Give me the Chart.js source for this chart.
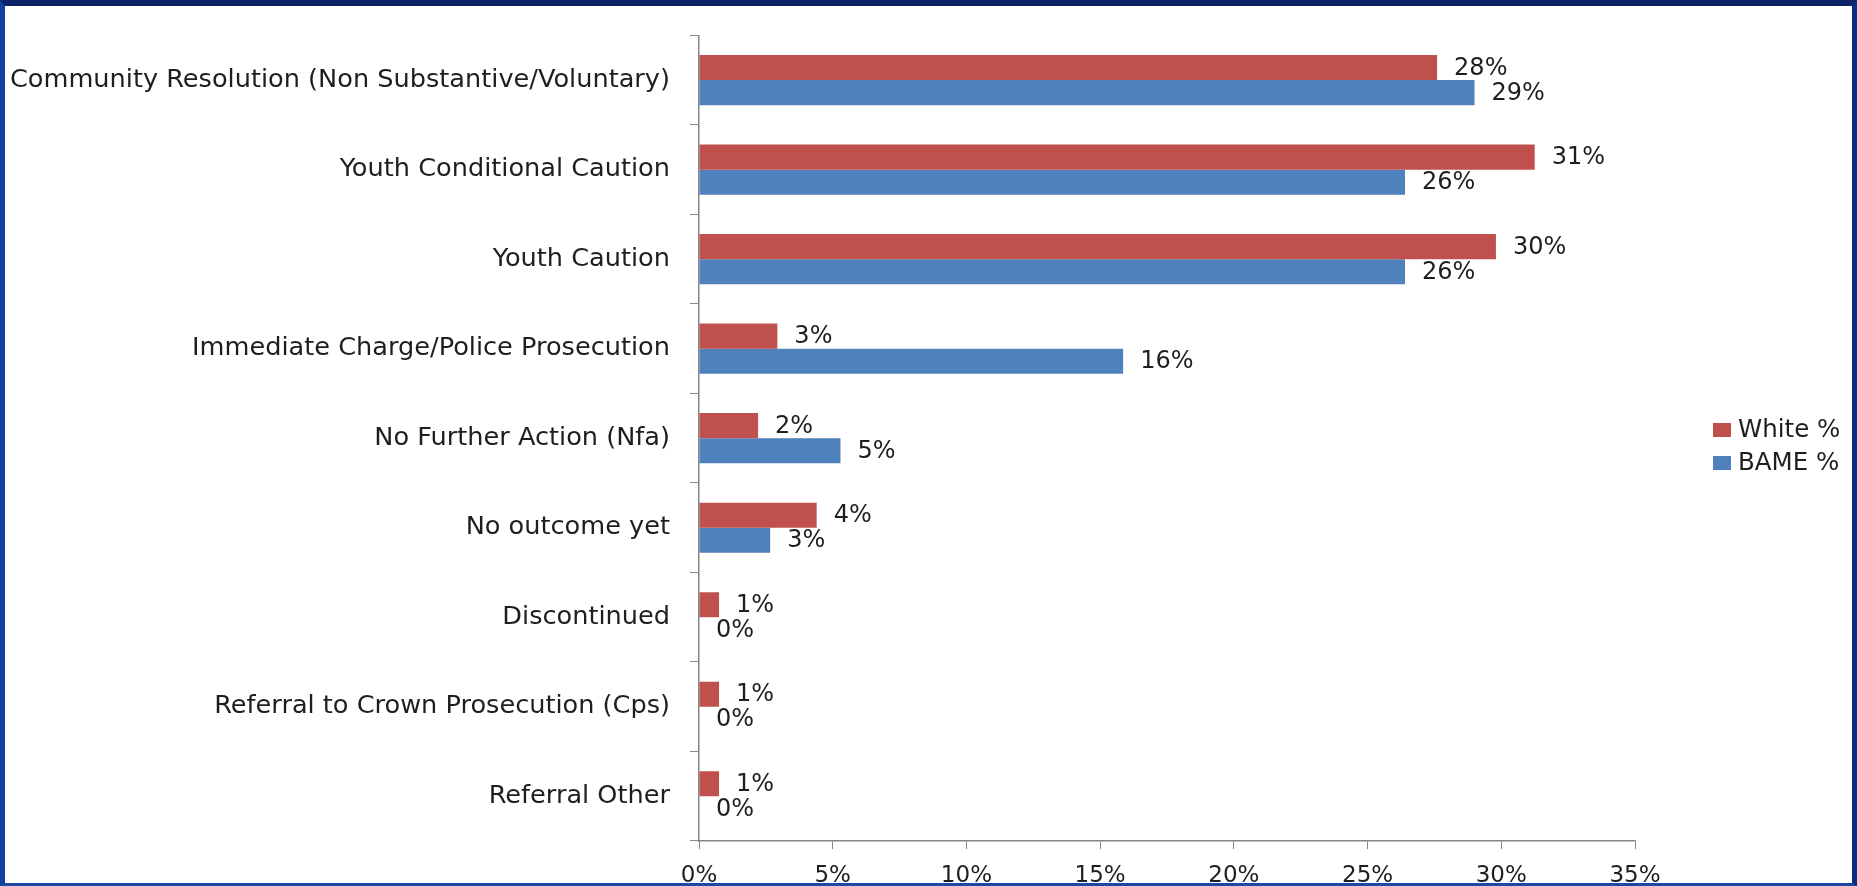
<!DOCTYPE html>
<html>
<head>
<meta charset="utf-8">
<script src="https://cdn.jsdelivr.net/npm/chart.js@4.4.1/dist/chart.umd.min.js"></script>
<style>
  html, body { margin: 0; padding: 0; background: #fff; }
  #wrap { position: relative; width: 1857px; height: 886px; overflow: hidden; }
  #frame {
    position: absolute; left: 0; top: 0; width: 1857px; height: 886px;
    box-sizing: border-box; border-style: solid;
    border-width: 6px 5px 3px 5px;
    border-color: #0b2467 #0a2c86 #1a4aa6 #1440a0;
    pointer-events: none;
  }
</style>
</head>
<body>
<div id="wrap">
  <canvas id="chart" width="1857" height="886"></canvas>
  <div id="frame"></div>
</div>
<script>
const categories = [
  'Community Resolution (Non Substantive/Voluntary)',
  'Youth Conditional Caution',
  'Youth Caution',
  'Immediate Charge/Police Prosecution',
  'No Further Action (Nfa)',
  'No outcome yet',
  'Discontinued',
  'Referral to Crown Prosecution (Cps)',
  'Referral Other'
];
const seriesNames = ['White %', 'BAME %'];
const whitePct = [27.6, 31.25, 29.8, 2.93, 2.21, 4.4, 0.75, 0.75, 0.75];
const bamePct  = [29.0, 26.4, 26.4, 15.86, 5.29, 2.66, 0, 0, 0];
const xMin = 0, xMax = 35, xStep = 5;

const FONT = 'DejaVu Sans';
const TEXT = '#1e1e1e';
const AXIS = '#868686';

// value labels at the end of each bar
const barLabels = {
  id: 'barLabels',
  afterDatasetsDraw(chart) {
    const ctx = chart.ctx;
    ctx.save();
    ctx.font = '24px "' + FONT + '"';
    ctx.fillStyle = TEXT;
    ctx.textAlign = 'left';
    ctx.textBaseline = 'middle';
    chart.data.datasets.forEach((ds, i) => {
      chart.getDatasetMeta(i).data.forEach((bar, j) => {
        ctx.fillText(Math.round(ds.data[j]) + '%', bar.x + 17, bar.y + 1);
      });
    });
    ctx.restore();
  }
};

// legend at the right, like the original
const sideLegend = {
  id: 'sideLegend',
  afterDraw(chart) {
    const ctx = chart.ctx;
    ctx.save();
    ctx.font = '24.5px "' + FONT + '"';
    ctx.textBaseline = 'middle';
    ctx.textAlign = 'left';
    chart.data.datasets.forEach((ds, i) => {
      const y = 430 + i * 33;
      ctx.fillStyle = ds.backgroundColor;
      ctx.fillRect(1713, y - 7, 18, 14);
      ctx.fillStyle = TEXT;
      ctx.fillText(ds.label, 1738, y + 1);
    });
    ctx.restore();
  }
};

new Chart(document.getElementById('chart'), {
  type: 'bar',
  data: {
    labels: categories,
    datasets: [
      { label: seriesNames[0], data: whitePct, backgroundColor: '#C0504D' },
      { label: seriesNames[1], data: bamePct, backgroundColor: '#4F81BD' }
    ]
  },
  options: {
    indexAxis: 'y',
    responsive: false,
    animation: false,
    layout: { padding: { top: 32, right: 222, bottom: 0, left: 0 } },
    datasets: { bar: { categoryPercentage: 0.56, barPercentage: 1.0 } },
    plugins: {
      legend: { display: false },
      tooltip: { enabled: false }
    },
    scales: {
      x: {
        min: xMin,
        max: xMax,
        ticks: {
          stepSize: xStep,
          callback: v => v + '%',
          font: { family: FONT, size: 23 },
          color: TEXT,
          padding: 13,
          maxRotation: 0
        },
        grid: { drawOnChartArea: false, color: AXIS, tickLength: 8 },
        border: { color: AXIS, width: 1.5 },
        afterFit(s) { s.height = 45; }
      },
      y: {
        ticks: {
          font: { family: FONT, size: 25.6 },
          color: TEXT,
          padding: 20
        },
        grid: { drawOnChartArea: false, color: AXIS, tickLength: 9, offset: true },
        border: { color: AXIS, width: 1.5 },
        afterFit(s) { s.width = 699; }
      }
    }
  },
  plugins: [barLabels, sideLegend]
});
</script>
</body>
</html>
